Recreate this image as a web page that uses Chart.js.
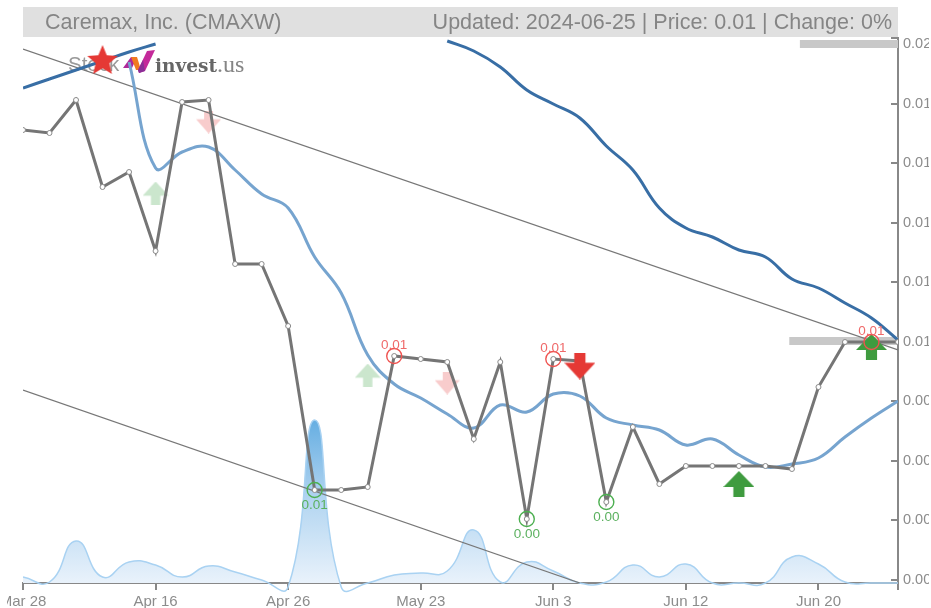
<!DOCTYPE html>
<html>
<head>
<meta charset="utf-8">
<script src="https://cdn.jsdelivr.net/npm/chart.js@4/dist/chart.umd.min.js"></script>
<style>
html,body{margin:0;padding:0;background:#fff;width:931px;height:608px;overflow:hidden;font-family:"Liberation Sans",sans-serif}
#band{position:absolute;left:23px;top:7px;width:875px;height:30px;background:#e0e0e0;color:#858585;font-size:21.5px;line-height:30px}
#band .l{position:absolute;left:22px;top:0}
#band .r{position:absolute;right:6px;top:0}
#logo{position:absolute;left:68px;top:50px;width:180px;height:30px}
#logo .s{position:absolute;left:0;top:3px;font-size:20.5px;line-height:22px;color:#9a9a9a}
#logo .i{position:absolute;left:87px;top:2px;font:bold 18.5px/24px "DejaVu Serif",serif;color:#666}
#logo .i span{font:normal 24px/24px "Liberation Serif",serif;color:#858585}
#logo svg{position:absolute;left:55px;top:0}
#band,#logo{filter:blur(0.4px)}
canvas{position:absolute;left:0;top:0;clip-path:inset(0 2px 0 7px);filter:blur(0.45px)}
</style>
</head>
<body>
<div id="band"><span class="l">Caremax, Inc. (CMAXW)</span><span class="r">Updated: 2024-06-25 | Price: 0.01 | Change: 0%</span></div>
<div id="logo"><span class="s">Stock</span>
<svg width="33" height="24" viewBox="0 0 33 24"><polygon points="0,18 8,7 14,7 9,18" fill="#b0279a"/><polygon points="8,7 14,7 18,20 13,20" fill="#f07a20"/><polygon points="15,20 24,1 32,0 22,21 16,23" fill="#c42a9a"/><polygon points="15,20 20,10 22,21 16,23" fill="#8b2f97"/></svg>
<span class="i">invest<span>.us</span></span></div>
<div style="position:absolute;left:0;top:0;width:931px;height:608px"><canvas id="c" width="931" height="608"></canvas></div>
<script>
const categories=['Mar 28','','','','','Apr 16','','','','','Apr 26','','','','','May 23','','','','','Jun 3','','','','','Jun 12','','','','','Jun 20','','',''];
const xTickIndex=[0,5,10,15,20,25,30,33];
const yTickValues=[-0.00009,0,0.00179,0.00357,0.00536,0.00714,0.00893,0.01071,0.0125,0.01429,0.01607,0.01626];
const yTickLabels=['','0.00','0.00','0.00','0.00','0.01','0.01','0.01','0.01','0.01','0.02',''];
const price=[0.0135,0.01341,0.0144,0.01179,0.01224,0.00987,0.01434,0.0144,0.00948,0.00948,0.00762,0.0027,0.0027,0.00279,0.00672,0.00663,0.00654,0.00423,0.00654,0.00183,0.00663,0.00657,0.00234,0.00459,0.00288,0.00342,0.00342,0.00342,0.00342,0.00333,0.00579,0.00714,0.00714,0.00714];
const maShort=[null,null,null,null,0.01554,0.01236,0.01284,0.01299,0.0123,0.01158,0.01116,0.00969,0.00861,0.00675,0.00588,0.00546,0.00498,0.00456,0.00525,0.00504,0.00558,0.00552,0.00486,0.00465,0.0045,0.00405,0.00423,0.00375,0.00339,0.00348,0.00366,0.00429,0.00486,0.00537];
const maLong=[0.01476,0.01503,0.0153,0.01557,0.01584,0.01608,null,null,null,null,null,null,null,null,null,null,0.01617,0.01587,0.01539,0.0147,0.01428,0.01386,0.01302,0.0123,0.01116,0.01056,0.01029,0.0099,0.00969,0.00903,0.00876,0.00831,0.00786,0.0072];
const volume=[600,100,4200,600,2100,1800,600,1700,1100,300,-400,16300,-400,0,800,1000,1200,5300,100,2100,1200,0,100,1800,600,1900,0,0,0,2600,1900,100,0,0];
const channelUpper=[{x:0,y:0.01593},{x:33,y:0.0069}];
const channelLower=[{x:0,y:0.0057},{x:21,y:-0.00009}];
const resistanceTop=[{x:29.3,y:0.01608},{x:33,y:0.01608}];
const resistanceNow=[{x:28.9,y:0.00717},{x:33,y:0.00717}];
const highIdx=[14,20,32];
const highLabels=['0.01','0.01','0.01'];
const lowIdx=[11,19,22];
const lowLabels=['0.01','0.00','0.00'];
const strongUp=[{x:27,y:0.00288},{x:32,y:0.00699}];
const strongDown=[{x:21,y:0.00642}];
const weakUp=[{x:5,y:0.01161},{x:13,y:0.00615}];
const weakDown=[{x:7,y:0.01374},{x:16,y:0.00591}];
const starMark=[{x:3,y:0.01557}];
const xy=a=>a.map((v,i)=>({x:i,y:v}));

function arrow(w,h,color,up){
  const c=document.createElement('canvas');c.width=w;c.height=h;const g=c.getContext('2d');
  if(!up){g.translate(0,h);g.scale(1,-1);}
  const hb=h*0.62,sw=w*0.36;
  g.fillStyle=color;g.beginPath();
  g.moveTo(w/2,0);g.lineTo(w,hb);g.lineTo(w/2+sw/2,hb);g.lineTo(w/2+sw/2,h);g.lineTo(w/2-sw/2,h);g.lineTo(w/2-sw/2,hb);g.lineTo(0,hb);g.closePath();g.fill();
  return c;
}
function star(r,color){
  const c=document.createElement('canvas');c.width=c.height=2*r;const g=c.getContext('2d');
  g.fillStyle=color;g.beginPath();
  for(let i=0;i<10;i++){const a=-Math.PI/2+i*Math.PI/5,q=i%2?r*0.45:r;g[i?'lineTo':'moveTo'](r+q*Math.cos(a),r+q*Math.sin(a));}
  g.closePath();g.fill();return c;
}
const markLabels={id:'markLabels',afterDatasetsDraw(ch){
  const g=ch.ctx,x=ch.scales.x,y=ch.scales.y;
  g.save();g.font='13.5px "Liberation Sans"';g.textAlign='center';g.textBaseline='middle';
  g.fillStyle='#ef6a6a';highIdx.forEach((i,k)=>g.fillText(highLabels[k],x.getPixelForValue(i),y.getPixelForValue(price[i])-11));
  g.fillStyle='#5cb160';lowIdx.forEach((i,k)=>g.fillText(lowLabels[k],x.getPixelForValue(i),y.getPixelForValue(price[i])+15));
  g.restore();
}};
const base={showLine:true,pointRadius:0,pointHoverRadius:0,fill:false};
const marks=(data,style,order,yAxisID='y')=>({type:'line',data,showLine:false,pointStyle:style,pointRadius:10,order,yAxisID});
new Chart(document.getElementById('c'),{
  type:'line',
  plugins:[markLabels],
  data:{datasets:[
    marks(starMark,star(16,'#e53935'),0),
    {type:'line',data:highIdx.map(i=>({x:i,y:price[i]})),showLine:false,pointStyle:'circle',pointRadius:7.5,pointBorderWidth:1.4,pointBorderColor:'#ef5350',pointBackgroundColor:'rgba(0,0,0,0)',order:1},
    {type:'line',data:lowIdx.map(i=>({x:i,y:price[i]})),showLine:false,pointStyle:'circle',pointRadius:7.5,pointBorderWidth:1.4,pointBorderColor:'#4caf50',pointBackgroundColor:'rgba(0,0,0,0)',order:1},
    marks(strongUp,arrow(31,26,'#3f9b3f',true),2),
    marks(strongDown,arrow(31,27,'#e53935',false),2),
    marks(weakUp,arrow(26,23,'#cbe6cd',true),8),
    marks(weakDown,arrow(25,23,'#f8cccc',false),8),
    {...base,data:xy(price),borderColor:'#757575',borderWidth:3,tension:0,pointRadius:2.5,pointBackgroundColor:'#fff',pointBorderColor:'#8a8a8a',pointBorderWidth:1,order:3},
    {...base,data:xy(maLong),borderColor:'#386ea5',borderWidth:3,tension:0.4,spanGaps:false,order:4},
    {...base,data:xy(maShort),borderColor:'#76a4cf',borderWidth:3,tension:0.4,order:5},
    {...base,data:channelUpper,borderColor:'#777',borderWidth:1.2,tension:0,order:6},
    {...base,data:channelLower,borderColor:'#777',borderWidth:1.2,tension:0,order:6},
    {...base,data:resistanceTop,borderColor:'#c8c8c8',borderWidth:8,tension:0,order:7},
    {...base,data:resistanceNow,borderColor:'#c8c8c8',borderWidth:8,tension:0,order:7},
    {...base,data:xy(volume),yAxisID:'v',borderColor:'#a9d2f2',borderWidth:1.5,tension:0.5,clip:{left:0,top:0,right:0,bottom:15},fill:'origin',order:9,
     backgroundColor(ctx){
       const a=ctx.chart.chartArea;if(!a)return 'rgba(0,0,0,0)';
       const g=ctx.chart.ctx.createLinearGradient(0,420,0,583);
       g.addColorStop(0,'#66aee2');g.addColorStop(0.5,'#b4d6f1');g.addColorStop(1,'#e9f2fb');return g;
     }}
  ]},
  options:{
    responsive:false,animation:false,
    layout:{padding:{left:23,top:38,right:0,bottom:0}},
    elements:{line:{capBezierPoints:false}},
    plugins:{legend:{display:false},title:{display:false},tooltip:{enabled:false}},
    scales:{
      x:{type:'linear',min:0,max:33,
        afterBuildTicks(s){s.ticks=xTickIndex.map(v=>({value:v}));},
        afterFit(s){s.height=25;s.paddingLeft=0;s.paddingRight=0;},
        grid:{drawOnChartArea:false,color:'#888',tickLength:7,lineWidth:2,tickWidth:2},
        border:{color:'#888',width:2},
        ticks:{autoSkip:false,maxRotation:0,minRotation:0,padding:3,color:'#8c8c8c',font:{size:15,family:'"Liberation Sans"'},callback:v=>categories[v]}
      },
      y:{type:'linear',position:'right',min:-0.00009,max:0.01626,
        afterBuildTicks(s){s.ticks=yTickValues.map(v=>({value:v}));},
        afterFit(s){s.width=33;s.paddingTop=0;s.paddingBottom=0;},
        grid:{drawOnChartArea:false,color:'#888',tickLength:-7,lineWidth:2},
        border:{color:'#888',width:2},
        ticks:{autoSkip:false,padding:12,color:'#8c8c8c',font:{size:14.5,family:'"Liberation Sans"'},callback:(v,i)=>yTickLabels[i]}
      },
      v:{type:'linear',display:false,min:0,max:54500}
    }
  }
});
</script>
</body>
</html>
